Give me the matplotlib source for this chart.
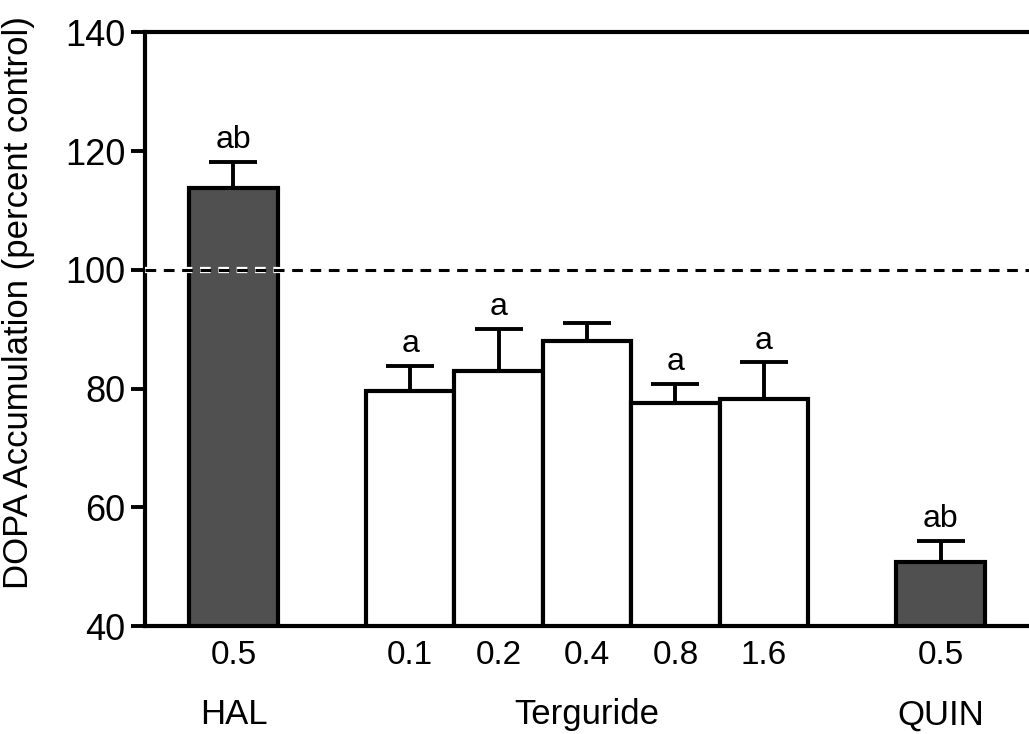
import matplotlib
matplotlib.use("Agg")
import matplotlib.pyplot as plt
import matplotlib.patheffects as pe
from matplotlib.transforms import blended_transform_factory

plt.rcParams['font.family'] = ['Liberation Sans', 'DejaVu Sans']

# data
groups = ["HAL", "Terguride", "Terguride", "Terguride", "Terguride", "Terguride", "QUIN"]
doses = ["0.5", "0.1", "0.2", "0.4", "0.8", "1.6", "0.5"]
means = [113.7, 79.6, 83.0, 88.0, 77.5, 78.2, 50.8]
sems = [4.4, 4.2, 7.0, 3.0, 3.2, 6.2, 3.6]
letters = ["ab", "a", "a", "", "a", "a", "ab"]
shaded = [True, False, False, False, False, False, True]
positions = [1, 3, 4, 5, 6, 7, 9]
group_names = ["HAL", "Terguride", "QUIN"]
group_centres = [1, 5, 9]

fig = plt.figure(figsize=(10.29, 7.34), dpi=100)
ax = fig.add_axes([0.141, 0.147, 0.859, 0.809])

fills = ['#505050' if s else 'white' for s in shaded]
ax.bar(positions, means, width=1.0, bottom=0, color=fills,
       edgecolor='black', linewidth=3, zorder=2)
ax.errorbar(positions, means, yerr=[[0] * len(sems), sems], fmt='none',
            ecolor='black', elinewidth=2.8, capsize=17, capthick=2.8, zorder=1)

for x, m, s, lab in zip(positions, means, sems, letters):
    if lab:
        ax.annotate(lab, (x, m + s), xytext=(0, 5), textcoords='offset points',
                    ha='center', va='bottom', fontsize=23)

ax.axhline(100, color='black', linestyle=(0, (3.5, 2.5)), linewidth=2.2, zorder=3,
           path_effects=[pe.withStroke(linewidth=4.5, foreground='white')])

ax.set_xlim(0, 10)
ax.set_ylim(40, 140)
ax.set_yticks(range(40, 141, 20))
ax.set_xticks(positions)
ax.set_xticklabels(doses)
ax.tick_params(axis='x', length=0, pad=10, labelsize=24)
ax.tick_params(axis='y', length=10, width=2.8, pad=4, labelsize=26)
ax.set_ylabel("DOPA Accumulation (percent control)", fontsize=25)
ax.yaxis.set_label_coords(-0.124, 0.545)

for side in ['left', 'bottom', 'top']:
    ax.spines[side].set_linewidth(3)
ax.spines['right'].set_visible(False)

trans = blended_transform_factory(ax.transData, fig.transFigure)
for name, xc in zip(group_names, group_centres):
    ax.text(xc, 0.026, name, transform=trans, ha='center', va='center', fontsize=25)

fig.savefig("out.png", dpi=100)
